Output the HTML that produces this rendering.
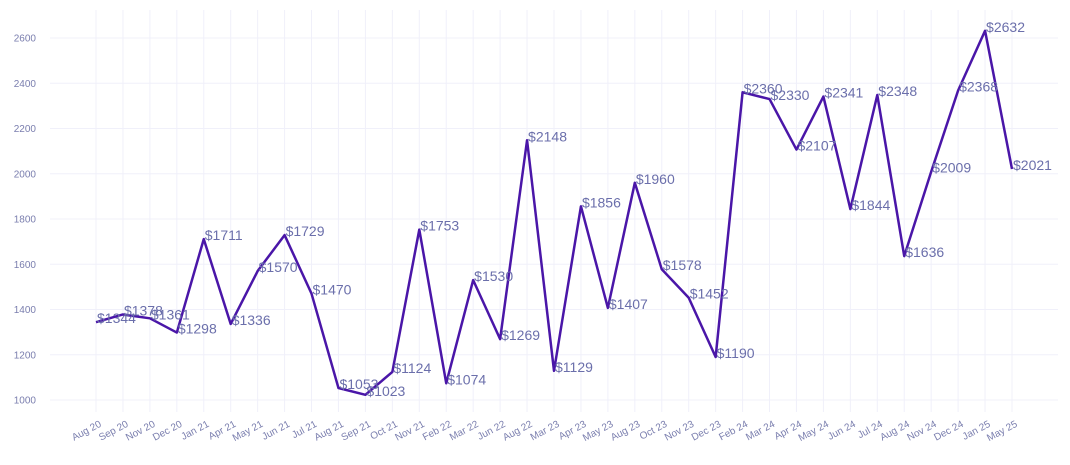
<!DOCTYPE html>
<html><head><meta charset="utf-8"><style>
html,body{margin:0;padding:0;background:#fff;}
svg{display:block;font-family:"Liberation Sans",Arial,sans-serif;}
</style></head><body>
<svg id="chart" width="1070" height="465"></svg>
<script>
const categories=["Aug 20","Sep 20","Nov 20","Dec 20","Jan 21","Apr 21","May 21","Jun 21","Jul 21","Aug 21","Sep 21","Oct 21","Nov 21","Feb 22","Mar 22","Jun 22","Aug 22","Mar 23","Apr 23","May 23","Aug 23","Oct 23","Nov 23","Dec 23","Feb 24","Mar 24","Apr 24","May 24","Jun 24","Jul 24","Aug 24","Nov 24","Dec 24","Jan 25","May 25"];
const values=[1344,1378,1361,1298,1711,1336,1570,1729,1470,1053,1023,1124,1753,1074,1530,1269,2148,1129,1856,1407,1960,1578,1452,1190,2360,2330,2107,2341,1844,2348,1636,2009,2368,2632,2021];
const yTicks=[1000,1200,1400,1600,1800,2000,2200,2400,2600];
const NS="http://www.w3.org/2000/svg";
const svg=document.getElementById('chart');
const x0=96,x1=1012,plotL=50,plotR=1058,plotT=10,plotB=412;
function xs(i){return x0+(x1-x0)*i/(categories.length-1);}
function ys(v){return 400-(v-1000)*(362/1600);}
function mk(t,a){const e=document.createElementNS(NS,t);for(const k in a)e.setAttribute(k,a[k]);svg.appendChild(e);return e;}
yTicks.forEach(v=>{
  const g=mk('line',{x1:plotL,x2:plotR,y1:ys(v),y2:ys(v),stroke:'#f0f0fa','stroke-width':1});
  
  
  const t=mk('text',{x:36,y:ys(v)+3.5,'text-anchor':'end','font-size':10,fill:'#7a7eae'});
  t.textContent=v;
  
  
});
categories.forEach((c,i)=>{
  const g=mk('line',{x1:xs(i),x2:xs(i),y1:plotT,y2:plotB,stroke:'#f0f0fa','stroke-width':1});
  
  
  const t=mk('text',{x:xs(i)+6,y:426,'text-anchor':'end','font-size':10,fill:'#7a7eae',transform:`rotate(-28 ${xs(i)+6} 426)`});
  t.textContent=c;
  
  
});
const pts=values.map((v,i)=>xs(i)+','+ys(v)).join(' ');
const line=mk('polyline',{points:pts,fill:'none',stroke:'#4a16a8','stroke-width':2.5,'stroke-linejoin':'round'});


values.forEach((v,i)=>{
  const t=mk('text',{x:xs(i)+1,y:ys(v)+1,'font-size':14,fill:'#6b6fab'});
  t.textContent='$'+v;
  
  
});
</script>
</body></html>
